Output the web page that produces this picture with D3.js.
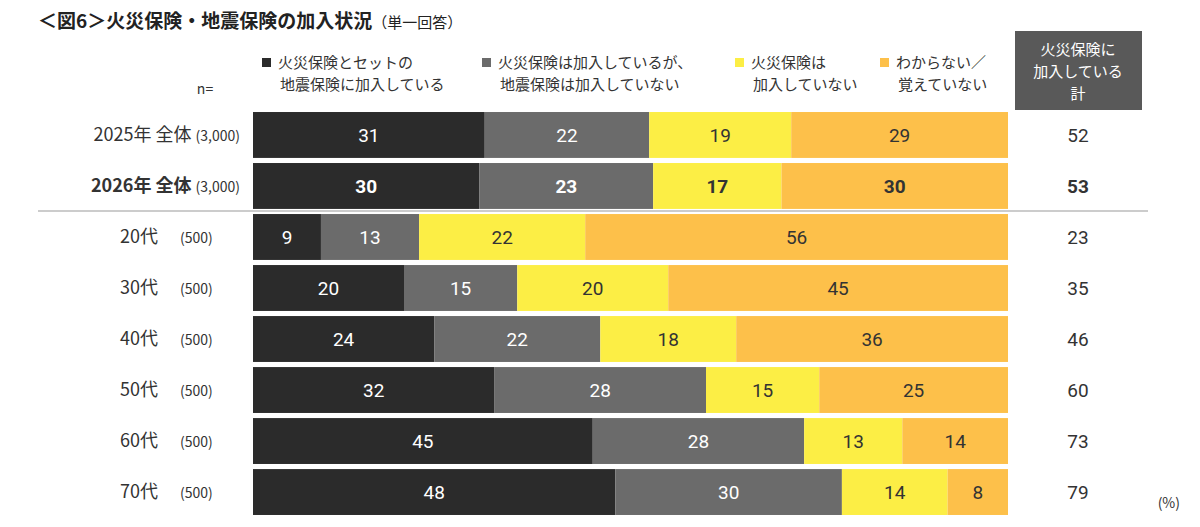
<!DOCTYPE html>
<html><head><meta charset="utf-8">
<script src="https://cdn.jsdelivr.net/npm/d3@7/dist/d3.min.js"></script>
<style>body{margin:0;background:#fff;font-family:"Noto Sans CJK JP","Noto Sans",sans-serif;}</style>
</head><body>
<script>
var rows = ["2025年 全体", "2026年 全体", "20代", "30代", "40代", "50代", "60代", "70代"];
var ns = ["(3,000)", "(3,000)", "(500)", "(500)", "(500)", "(500)", "(500)", "(500)"];
var setJishin = [31, 30, 9, 20, 24, 32, 45, 48];
var kasaiOnly = [22, 23, 13, 15, 22, 28, 28, 30];
var notJoined = [19, 17, 22, 20, 18, 15, 13, 14];
var unknown = [29, 30, 56, 45, 36, 25, 14, 8];
var totals = [52, 53, 23, 35, 46, 60, 73, 79];
var legendLabels = [["火災保険とセットの", "地震保険に加入している"], ["火災保険は加入しているが、", "地震保険は加入していない"], ["火災保険は", "加入していない"], ["わからない／", "覚えていない"]];
var colors = ["#2b2b2b", "#6b6b6b", "#fcee45", "#fdc04a"];
var textColors = ["#fff", "#fff", "#333", "#333"];

var width = 1200, height = 527;
var svg = d3.select("body").append("svg").attr("width", width).attr("height", height);

var y = d3.scaleBand().domain(d3.range(rows.length)).range([111, 516]).paddingInner(0.1).paddingOuter(0.02);
var x = d3.scaleLinear().domain([0, 1]).range([253, 1008]);

svg.append("text").attr("x", 38).attr("y", 28).attr("font-size", 19).attr("font-weight", "bold").attr("fill", "#222")
  .text("＜図6＞火災保険・地震保険の加入状況")
  .append("tspan").attr("font-weight", "normal").attr("font-size", 15).text("（単一回答）");

svg.append("text").attr("x", 205).attr("y", 94).attr("font-size", 14).attr("fill", "#333").attr("text-anchor", "middle").text("n=");

var legX = [262, 482, 735, 880];
legendLabels.forEach(function(l, i) {
  svg.append("rect").attr("x", legX[i]).attr("y", 58).attr("width", 9).attr("height", 9).attr("fill", colors[i]);
  l.forEach(function(t, j) {
    svg.append("text").attr("x", legX[i] + (j == 0 ? 16 : 18)).attr("y", 68 + j * 22).attr("font-size", 15).attr("fill", "#333").text(t);
  });
});

// right header box
svg.append("rect").attr("x", 1015).attr("y", 31).attr("width", 127).attr("height", 79).attr("fill", "#595959");
["火災保険に", "加入している", "計"].forEach(function(t, i) {
  svg.append("text").attr("x", 1078).attr("y", 55 + i * 22).attr("text-anchor", "middle").attr("font-size", 15).attr("fill", "#fff").text(t);
});

var series = [setJishin, kasaiOnly, notJoined, unknown];
rows.forEach(function(r, i) {
  var sum = d3.sum(series, function(s) { return s[i]; });
  var cy = y(i) + y.bandwidth() / 2;
  var bold = i == 1;
  var acc = 0;
  series.forEach(function(s, k) {
    var x0 = x(acc / sum), x1 = x((acc + s[i]) / sum);
    svg.append("rect").attr("x", x0).attr("y", y(i)).attr("width", x1 - x0).attr("height", y.bandwidth()).attr("fill", colors[k]);
    svg.append("text").attr("x", (x0 + x1) / 2).attr("y", cy).attr("dy", "0.35em").attr("text-anchor", "middle")
      .attr("font-size", 19).attr("font-family", "Roboto,'Noto Sans',sans-serif").attr("font-weight", bold ? "bold" : "normal")
      .attr("fill", textColors[k]).text(s[i]);
    acc += s[i];
  });
  var lbl = svg.append("text").attr("y", cy).attr("dy", "0.35em").attr("fill", "#333");
  if (i < 2) {
    lbl.attr("x", 240).attr("text-anchor", "end");
    lbl.append("tspan").attr("font-size", 18).attr("font-weight", bold ? "bold" : "normal").text(r + " ");
    lbl.append("tspan").attr("font-size", 14).text(ns[i]);
  } else {
    lbl.attr("x", 120);
    lbl.append("tspan").attr("font-size", 18).text(r);
    lbl.append("tspan").attr("x", 180).attr("font-size", 14).text(ns[i]);
  }
  svg.append("text").attr("x", 1078).attr("y", cy).attr("dy", "0.35em").attr("text-anchor", "middle")
    .attr("font-size", 19).attr("font-family", "Roboto,'Noto Sans',sans-serif").attr("font-weight", bold ? "bold" : "normal")
    .attr("fill", "#333").text(totals[i]);
});

svg.append("line").attr("x1", 38).attr("x2", 1148).attr("y1", 211).attr("y2", 211).attr("stroke", "#bbb").attr("stroke-width", 1.5);
svg.append("text").attr("x", 1180).attr("y", 508).attr("text-anchor", "end").attr("font-size", 14).attr("fill", "#333").text("(%)");
</script>
</body></html>
